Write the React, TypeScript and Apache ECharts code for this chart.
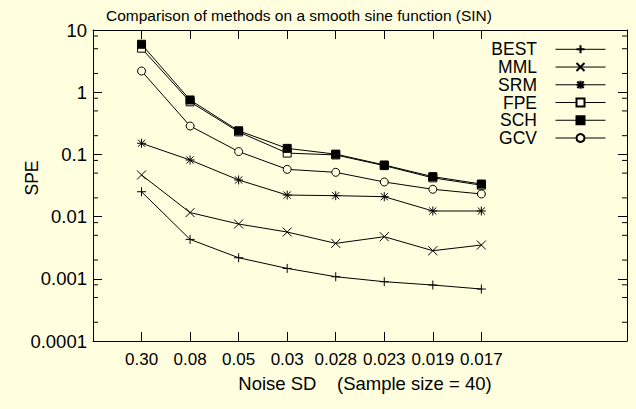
import React, { useEffect, useRef } from 'react';
import * as echarts from 'echarts';

const noiseSD = ['0.30', '0.08', '0.05', '0.03', '0.028', '0.023', '0.019', '0.017'];
const padBefore = ['pad0'];
const padAfter = ['pad1', 'pad2', 'pad3'];

const seriesNames = ['BEST', 'MML', 'SRM', 'FPE', 'SCH', 'GCV'];
const best = [0.0251, 0.0043, 0.00218, 0.00147, 0.00108, 0.000898, 0.000794, 0.000685];
const mml = [0.0467, 0.0116, 0.0076, 0.00565, 0.00371, 0.00475, 0.00283, 0.00349];
const srm = [0.151, 0.0813, 0.0388, 0.0222, 0.0217, 0.0209, 0.0123, 0.0123];
const fpe = [5.1, 0.7, 0.23, 0.105, 0.098, 0.066, 0.042, 0.032];
const sch = [5.9, 0.75, 0.24, 0.125, 0.101, 0.0676, 0.0439, 0.0334];
const gcv = [2.19, 0.286, 0.111, 0.0575, 0.0515, 0.036, 0.0275, 0.0231];

const yTickLabels = ['0.0001', '0.001', '0.01', '0.1', '1', '10'];
const yMinorTicks = [
  0.0002, 0.0005, 0.0008,
  0.002, 0.005, 0.008,
  0.02, 0.05, 0.08,
  0.2, 0.5, 0.8,
  2, 5, 8,
];

const BG = '#FFFFE0';
const FONT = "'Liberation Sans', Arial, Helvetica, sans-serif";

const PLUS = 'path://M0,5L10,5M5,0L5,10';
const CROSS = 'path://M0,0L10,10M10,0L0,10';
const STAR = 'path://M0,5L10,5M5,0L5,10M1,1L9,9M9,1L1,9';

// legend layout (pixels)
const LEGEND_TOP = 44.3;
const LEGEND_STEP = 17.74;
const LEGEND_TEXT_RIGHT = 537;

export default function App() {
  const ref = useRef<HTMLDivElement>(null);

  useEffect(() => {
    if (!ref.current) return;
    const chart = echarts.init(ref.current, undefined, { renderer: 'svg' });

    const categories = [...padBefore, ...noiseSD, ...padAfter];
    const isReal = (v: any) => noiseSD.includes(String(v));

    const mk = (name: string, values: number[], symbol: string, size: number, fill: string) => ({
      name,
      type: 'line',
      data: values.map((v, i) => [noiseSD[i], v]),
      symbol,
      symbolSize: size,
      showAllSymbol: true,
      lineStyle: { color: '#000', width: 1 },
      itemStyle: { color: fill, borderColor: '#000', borderWidth: 1 },
      emphasis: { disabled: true },
      z: 3,
    });

    const option: any = {
      animation: false,
      backgroundColor: BG,
      textStyle: { fontFamily: FONT, color: '#000' },
      title: {
        text: 'Comparison of methods on a smooth sine function (SIN)',
        left: 106,
        top: 7,
        padding: 0,
        textStyle: { fontFamily: FONT, fontSize: 15.5, fontWeight: 'normal', color: '#000' },
      },
      grid: { left: 93, right: 9, top: 30, bottom: 68, containLabel: false, outerBoundsMode: 'none' },
      legend: {
        data: seriesNames,
        orient: 'vertical',
        right: 30,
        top: LEGEND_TOP,
        align: 'right',
        padding: 0,
        itemGap: LEGEND_STEP - 10,
        itemWidth: 50,
        itemHeight: 10,
        selectedMode: false,
        lineStyle: { width: 1, color: '#000' },
        formatter: () => '',
        textStyle: { fontSize: 6, lineHeight: 6 },
      },
      xAxis: [
        {
          type: 'category',
          data: categories,
          boundaryGap: false,
          position: 'bottom',
          axisLine: { show: true, lineStyle: { color: '#000', width: 1 } },
          axisTick: { show: true, inside: true, length: 9, interval: (_i: number, v: string) => isReal(v), lineStyle: { color: '#000' } },
          axisLabel: {
            interval: 0,
            margin: 10,
            fontSize: 17,
            color: '#000',
            fontFamily: FONT,
            formatter: (v: string) => (isReal(v) ? v : ''),
          },
          splitLine: { show: false },
          name: 'Noise SD\u00A0\u00A0\u00A0\u00A0(Sample size = 40)',
          nameLocation: 'middle',
          nameGap: 33,
          nameTextStyle: { fontFamily: FONT, fontSize: 18.5, color: '#000', padding: [0, 0, 0, 10] },
        },
        {
          type: 'category',
          data: categories,
          boundaryGap: false,
          position: 'top',
          axisLine: { show: true, lineStyle: { color: '#000', width: 1 } },
          axisTick: { show: true, inside: true, length: 9, interval: (_i: number, v: string) => isReal(v), lineStyle: { color: '#000' } },
          axisLabel: { show: false },
          splitLine: { show: false },
        },
      ],
      yAxis: [
        {
          type: 'log',
          logBase: 10,
          min: 0.0001,
          max: 10,
          splitNumber: 5,
          position: 'left',
          axisLine: { show: true, lineStyle: { color: '#000', width: 1 } },
          axisTick: { show: true, inside: true, length: 9, lineStyle: { color: '#000' } },
          axisLabel: {
            margin: 6,
            fontSize: 18.5,
            color: '#000',
            fontFamily: FONT,
            formatter: (v: number) => yTickLabels[Math.round(Math.log10(v)) + 4] ?? '',
          },
          splitLine: { show: false },
        },
        {
          type: 'log',
          logBase: 10,
          min: 0.0001,
          max: 10,
          splitNumber: 5,
          position: 'right',
          axisLine: { show: true, lineStyle: { color: '#000', width: 1 } },
          axisTick: { show: true, inside: true, length: 9, lineStyle: { color: '#000' } },
          axisLabel: { show: false },
          splitLine: { show: false },
        },
      ],
      graphic: [
        {
          type: 'text',
          x: 32,
          y: 178,
          rotation: Math.PI / 2,
          style: {
            text: 'SPE',
            fontSize: 17.5,
            fontFamily: FONT,
            fill: '#000',
            textAlign: 'center',
            textVerticalAlign: 'middle',
          },
        },
        ...seriesNames.map((n, i) => ({
          type: 'text',
          x: LEGEND_TEXT_RIGHT,
          y: LEGEND_TOP + 5 + i * LEGEND_STEP,
          style: {
            text: n,
            fontSize: 17.5,
            fontFamily: FONT,
            fill: '#000',
            textAlign: 'right',
            textVerticalAlign: 'middle',
          },
        })),
      ],
      series: [
        {
          name: 'minorTicks',
          type: 'custom',
          xAxisIndex: 0,
          yAxisIndex: 0,
          silent: true,
          clip: false,
          z: 2,
          data: yMinorTicks.map((v) => [noiseSD[0], v]),
          renderItem: (params: any, api: any) => {
            const cs = params.coordSys;
            const y = api.coord([1, api.value(1)])[1];
            const st = { stroke: '#000', lineWidth: 1 };
            return {
              type: 'group',
              children: [
                { type: 'line', shape: { x1: cs.x, y1: y, x2: cs.x + 5, y2: y }, style: st },
                { type: 'line', shape: { x1: cs.x + cs.width - 5, y1: y, x2: cs.x + cs.width, y2: y }, style: st },
              ],
            };
          },
        },
        mk('BEST', best, PLUS, 9, '#000'),
        mk('MML', mml, CROSS, 9, '#000'),
        mk('SRM', srm, STAR, 9, '#000'),
        mk('FPE', fpe, 'rect', 8, BG),
        mk('SCH', sch, 'rect', 8, '#000'),
        mk('GCV', gcv, 'circle', 8, BG),
      ],
    };

    chart.setOption(option);
    return () => chart.dispose();
  }, []);

  return (
    <div
      ref={ref}
      style={{ position: 'fixed', left: 0, top: 0, width: 636, height: 409, background: BG }}
    />
  );
}
